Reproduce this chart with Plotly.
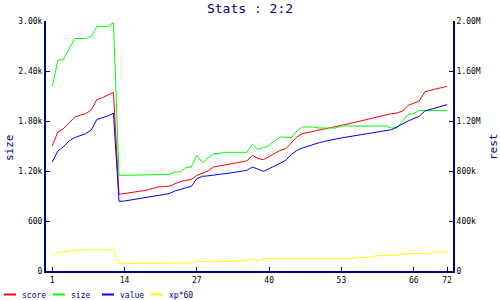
import plotly.graph_objects as go

x_vals = list(range(1, 73))

score = [1500, 1668, 1708, 1775, 1845, 1870, 1888, 1930, 2056, 2080, 2110, 2144,
         920, 930, 945, 956, 962, 970, 990, 1008, 1012, 1016, 1045, 1072,
         1088, 1100, 1148, 1170, 1200, 1248, 1260, 1272, 1284, 1296, 1308, 1320,
         1388, 1350, 1336, 1376, 1410, 1448, 1468, 1540, 1610, 1648, 1662, 1675,
         1688, 1700, 1712, 1728, 1745, 1761, 1777, 1793, 1809, 1825, 1841, 1857,
         1877, 1888, 1896, 1920, 1988, 2010, 2040, 2150, 2170, 2185, 2200, 2216]

size = [2216, 2528, 2540, 2665, 2790, 2790, 2790, 2815, 2930, 2935, 2935, 2980,
        1148, 1148, 1148, 1148, 1148, 1150, 1157, 1157, 1157, 1160, 1188, 1190,
        1240, 1250, 1388, 1300, 1360, 1408, 1410, 1424, 1424, 1424, 1424, 1424,
        1520, 1460, 1480, 1508, 1560, 1608, 1604, 1600, 1680, 1728, 1728, 1728,
        1716, 1716, 1716, 1716, 1740, 1740, 1740, 1740, 1740, 1740, 1740, 1740,
        1740, 1716, 1716, 1800, 1877, 1889, 1928, 1924, 1924, 1924, 1924, 1924]

value = [1308, 1440, 1490, 1560, 1600, 1625, 1648, 1690, 1816, 1840, 1860, 1896,
         836, 840, 850, 860, 875, 888, 898, 908, 918, 928, 960, 980,
         1000, 1016, 1108, 1136, 1142, 1148, 1158, 1168, 1176, 1186, 1196, 1208,
         1248, 1220, 1196, 1228, 1260, 1300, 1328, 1400, 1448, 1476, 1500, 1520,
         1540, 1556, 1572, 1588, 1598, 1608, 1618, 1628, 1638, 1648, 1658, 1668,
         1680, 1696, 1730, 1768, 1800, 1830, 1856, 1920, 1940, 1960, 1980, 1996]

xp60 = [188, 222, 228, 240, 250, 252, 252, 252, 252, 252, 252, 252,
        89, 92, 92, 92, 92, 92, 92, 92, 92, 92, 92, 92,
        92, 96, 116, 116, 116, 104, 116, 116, 116, 116, 128, 128,
        140, 124, 148, 148, 148, 148, 148, 148, 148, 148, 148, 148,
        148, 148, 148, 148, 148, 148, 148, 164, 164, 164, 180, 188,
        188, 188, 188, 204, 212, 212, 212, 212, 212, 228, 228, 228]

x_ticks = [1, 14, 27, 40, 53, 66, 72]
y_ticks = [0, 600, 1200, 1800, 2400, 3000]
y_tick_text = ["0", "600", "1.20k", "1.80k", "2.40k", "3.00k"]
y2_ticks = [0, 400000, 800000, 1200000, 1600000, 2000000]
y2_tick_text = ["0", "400k", "800k", "1.20M", "1.60M", "2.00M"]

series = [("score", score, "#ff0000"), ("size", size, "#00ff00"),
          ("value", value, "#0000ff"), ("xp*60", xp60, "#ffff00")]

NAVY = "#000080"
FONT = "DejaVu Sans Mono"

fig = go.Figure()
for name, ys, col in series:
    fig.add_trace(go.Scatter(x=x_vals, y=ys, mode="lines", name=name,
                             line=dict(color=col, width=1), showlegend=False))
fig.add_trace(go.Scatter(x=[None], y=[None], yaxis="y2", showlegend=False))

W, H = 500, 300
L, R, T, B = 46, 47, 21, 29
pw, ph = W - L - R, H - T - B

def px2paper_x(px):
    return (px - L) / pw

def py2paper_y(py):
    return (H - B - py) / ph

shapes = []
annotations = []
leg_x = [4, 53, 102, 151]
for (name, ys, col), lx in zip(series, leg_x):
    shapes.append(dict(type="line", xref="paper", yref="paper",
                       x0=px2paper_x(lx), x1=px2paper_x(lx + 12),
                       y0=py2paper_y(294.5), y1=py2paper_y(294.5),
                       line=dict(color=col, width=2)))
    annotations.append(dict(text=name, xref="paper", yref="paper",
                            x=px2paper_x(lx + 16), y=py2paper_y(295),
                            xanchor="left", yanchor="middle", showarrow=False,
                            font=dict(family=FONT, size=8, color=NAVY)))

annotations.append(dict(text="size", xref="paper", yref="paper",
                        x=px2paper_x(9), y=py2paper_y(148), textangle=-90,
                        xanchor="center", yanchor="middle", showarrow=False,
                        font=dict(family=FONT, size=11, color=NAVY)))
annotations.append(dict(text="rest", xref="paper", yref="paper",
                        x=px2paper_x(493), y=py2paper_y(146), textangle=-90,
                        xanchor="center", yanchor="middle", showarrow=False,
                        font=dict(family=FONT, size=11, color=NAVY)))

axis_common = dict(showgrid=False, zeroline=False, showline=True,
                   linecolor=NAVY, linewidth=2, ticks="inside", ticklen=4,
                   tickcolor=NAVY, tickwidth=1,
                   tickfont=dict(family=FONT, size=8, color="black"))

fig.update_layout(
    width=W, height=H,
    margin=dict(l=L, r=R, t=T, b=B, pad=0),
    paper_bgcolor="white", plot_bgcolor="white",
    title=dict(text="Stats : 2:2", x=0.5, xref="container", xanchor="center",
               y=1 - 8 / H, yref="container", yanchor="middle",
               font=dict(family=FONT, size=13, color=NAVY)),
    xaxis=dict(range=[-0.13, 73.07], tickvals=x_ticks,
               ticktext=[str(v) for v in x_ticks], **axis_common),
    yaxis=dict(range=[0, 3000], tickvals=y_ticks, ticktext=y_tick_text,
               **axis_common),
    yaxis2=dict(range=[0, 2000000], tickvals=y2_ticks, ticktext=y2_tick_text,
                overlaying="y", side="right", **axis_common),
    shapes=shapes, annotations=annotations,
)

fig.write_html("out.html")
